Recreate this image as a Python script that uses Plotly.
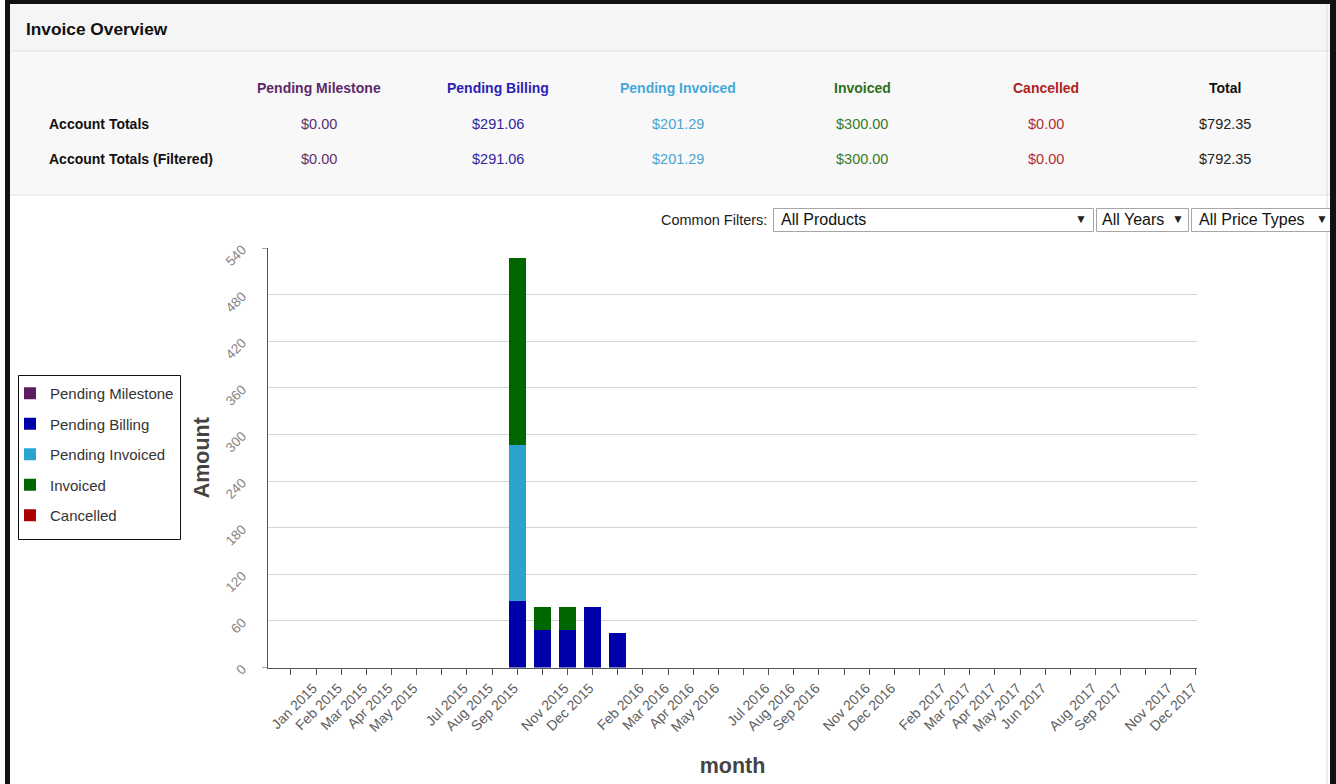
import plotly.graph_objects as go

W, H = 1336, 784
FONT = "Liberation Sans, Arial, Helvetica, sans-serif"

# ---- chart data -------------------------------------------------------------
MONTH_CATEGORIES = [
    "Dec 2014",
    "Jan 2015", "Feb 2015", "Mar 2015", "Apr 2015", "May 2015", "Jun 2015",
    "Jul 2015", "Aug 2015", "Sep 2015", "Oct 2015", "Nov 2015", "Dec 2015",
    "Jan 2016", "Feb 2016", "Mar 2016", "Apr 2016", "May 2016", "Jun 2016",
    "Jul 2016", "Aug 2016", "Sep 2016", "Oct 2016", "Nov 2016", "Dec 2016",
    "Jan 2017", "Feb 2017", "Mar 2017", "Apr 2017", "May 2017", "Jun 2017",
    "Jul 2017", "Aug 2017", "Sep 2017", "Oct 2017", "Nov 2017", "Dec 2017",
]
TICK_LABELS = [
    "",
    "Jan 2015", "Feb 2015", "Mar 2015", "Apr 2015", "May 2015", "",
    "Jul 2015", "Aug 2015", "Sep 2015", "", "Nov 2015", "Dec 2015",
    "", "Feb 2016", "Mar 2016", "Apr 2016", "May 2016", "",
    "Jul 2016", "Aug 2016", "Sep 2016", "", "Nov 2016", "Dec 2016",
    "", "Feb 2017", "Mar 2017", "Apr 2017", "May 2017", "Jun 2017",
    "", "Aug 2017", "Sep 2017", "", "Nov 2017", "Dec 2017",
]

BAR_MONTHS = ["Sep 2015", "Oct 2015", "Nov 2015", "Dec 2015", "Jan 2016"]
PENDING_MILESTONE = [0, 0, 0, 0, 0]
PENDING_BILLING = [85.6, 48.3, 48.3, 77.5, 44.8]
PENDING_INVOICED = [201.3, 0, 0, 0, 0]
INVOICED = [240.5, 29.2, 29.2, 0, 0]
CANCELLED = [0, 0, 0, 0, 0]

Y_TICKS = [0, 60, 120, 180, 240, 300, 360, 420, 480, 540]
Y_GRID = [60, 120, 180, 240, 300, 360, 420, 480]

# ---- summary table ----------------------------------------------------------
SUMMARY_COLUMNS = ["Pending Milestone", "Pending Billing", "Pending Invoiced",
                   "Invoiced", "Cancelled", "Total"]
ACCOUNT_TOTALS = ["$0.00", "$291.06", "$201.29", "$300.00", "$0.00", "$792.35"]
ACCOUNT_TOTALS_FILTERED = ["$0.00", "$291.06", "$201.29", "$300.00", "$0.00", "$792.35"]
ROW_LABELS = ["Account Totals", "Account Totals (Filtered)"]

COL_X = [319, 498, 678, 862, 1046, 1225]
HEAD_COLORS = ["#5d2a6a", "#2c1fb4", "#45a8d8", "#2e6e1e", "#b02222", "#111111"]
VALUE_COLORS = ["#5d2f6c", "#33249c", "#4aa6d2", "#3a7a2a", "#b03030", "#222222"]

SERIES_COLORS = {
    "Pending Milestone": "#5d1e5f",
    "Pending Billing": "#0000aa",
    "Pending Invoiced": "#2aa3cf",
    "Invoiced": "#006600",
    "Cancelled": "#aa0000",
}

# plot area in page pixels
PX_L, PX_R = 268, 1197
PX_T, PX_B = 248, 667.5
X_RANGE = [-0.91, 36.04]


def px(x):
    return x / W


def py(y):
    return 1 - y / H


fig = go.Figure()
for name, vals in [("Pending Milestone", PENDING_MILESTONE),
                   ("Pending Billing", PENDING_BILLING),
                   ("Pending Invoiced", PENDING_INVOICED),
                   ("Invoiced", INVOICED),
                   ("Cancelled", CANCELLED)]:
    fig.add_trace(go.Bar(
        x=BAR_MONTHS, y=vals, name=name, legendgroup=name,
        marker=dict(color=SERIES_COLORS[name], line=dict(width=0)),
    ))

shapes = []


def rect(x0, y0, x1, y1, fill, line=None, lw=0):
    shapes.append(dict(type="rect", xref="paper", yref="paper",
                       x0=px(x0), x1=px(x1), y0=py(y1), y1=py(y0),
                       fillcolor=fill, line=dict(color=line or fill, width=lw),
                       layer="below"))


def hline(x0, x1, y, color, lw=1):
    shapes.append(dict(type="line", xref="paper", yref="paper",
                       x0=px(x0), x1=px(x1), y0=py(y), y1=py(y),
                       line=dict(color=color, width=lw), layer="below"))


# panel backgrounds
rect(10, 4, 1330, 51, "#f5f5f5")
hline(10, 1330, 51, "#dcdcdc")
rect(10, 52, 1330, 195, "#f8f8f8")
hline(10, 1330, 195, "#e4e4e4")
shapes.append(dict(type="line", xref="paper", yref="paper",
                   x0=px(1327), x1=px(1327), y0=py(4), y1=py(784),
                   line=dict(color="#dddddd", width=1), layer="below"))

# filter dropdowns
for x0, x1 in [(773, 1093), (1096, 1188), (1191, 1345)]:
    shapes.append(dict(type="rect", xref="paper", yref="paper",
                       x0=px(x0 + 0.5), x1=px(x1 + 0.5), y0=py(231.5), y1=py(208.5),
                       fillcolor="#ffffff", line=dict(color="#a6a6a6", width=1),
                       layer="above"))

# outer frame
for x0, y0, x1, y1 in [(5, 0, 10, 784), (5, 0, 1336, 4), (1330, 0, 1336, 784)]:
    shapes.append(dict(type="rect", xref="paper", yref="paper",
                       x0=px(x0), x1=px(x1), y0=py(y1), y1=py(y0),
                       fillcolor="#111111", line=dict(width=0), layer="above"))

# legend frame
shapes.append(dict(type="rect", xref="paper", yref="paper",
                   x0=px(18.5), x1=px(180.5), y0=py(539.5), y1=py(375.5),
                   fillcolor="rgba(0,0,0,0)", line=dict(color="#111111", width=1),
                   layer="above"))

# outer ticks at both ends of the value axis
for v in (Y_TICKS[0], Y_TICKS[-1]):
    shapes.append(dict(type="line", xref="paper", yref="y",
                       x0=px(262), x1=px(PX_L), y0=v, y1=v,
                       line=dict(color="#555555", width=1), layer="above"))

annotations = []


def text(x, y, s, size=14.5, color="#222222", bold=False, anchor="center"):
    annotations.append(dict(
        x=px(x), y=py(y), xref="paper", yref="paper", text=f"<b>{s}</b>" if bold else s,
        showarrow=False, xanchor=anchor, yanchor="middle",
        font=dict(family=FONT, size=size, color=color)))


text(24, 29, "Invoice Overview", size=17.3, color="#111111", bold=True, anchor="left")

for i, col in enumerate(SUMMARY_COLUMNS):
    text(COL_X[i], 88, col, size=14, color=HEAD_COLORS[i], bold=True)
    text(COL_X[i], 124, ACCOUNT_TOTALS[i], color=VALUE_COLORS[i])
    text(COL_X[i], 159, ACCOUNT_TOTALS_FILTERED[i], color=VALUE_COLORS[i])
text(47, 124, ROW_LABELS[0], size=14, color="#111111", bold=True, anchor="left")
text(47, 159, ROW_LABELS[1], size=14, color="#111111", bold=True, anchor="left")

text(769, 220, "Common Filters:", size=14.5, color="#222222", anchor="right")
text(779, 220, "All Products", size=16, color="#111111", anchor="left")
text(1100, 220, "All Years", size=16, color="#111111", anchor="left")
text(1197, 220, "All Price Types", size=16, color="#111111", anchor="left")
for ax in (1081, 1178, 1322):
    text(ax, 219, "▼", size=12, color="#222222")

fig.update_layout(
    width=W, height=H,
    margin=dict(l=0, r=0, t=0, b=0, pad=0, autoexpand=False),
    paper_bgcolor="#ffffff", plot_bgcolor="#ffffff",
    font=dict(family=FONT),
    barmode="stack", bargap=0.32,
    shapes=shapes, annotations=annotations,
    showlegend=True,
    legend=dict(
        x=px(10), y=py(377), xanchor="left", yanchor="top",
        traceorder="grouped", tracegroupgap=8,
        bgcolor="rgba(0,0,0,0)", borderwidth=0,
        font=dict(family=FONT, size=15, color="#333333"),
    ),
    xaxis=dict(
        domain=[px(PX_L), px(PX_R)], automargin=False,
        type="category", categoryorder="array", categoryarray=MONTH_CATEGORIES,
        range=X_RANGE,
        tickmode="array", tickvals=MONTH_CATEGORIES, ticktext=TICK_LABELS,
        tickangle=-45, ticks="outside", ticklen=6, tickcolor="#555555",
        ticklabelshift=-3,
        tickfont=dict(family=FONT, size=14, color="#606060"),
        showline=True, linecolor="#555555", linewidth=1,
        showgrid=False, zeroline=False,
        title=dict(text="<b>month</b>", font=dict(family=FONT, size=21.5, color="#444444"),
                   standoff=24),
    ),
    yaxis=dict(
        domain=[py(PX_B), py(PX_T)], automargin=False,
        range=[0, 540],
        tickmode="array", tickvals=Y_TICKS,
        tickangle=-45, ticks="", ticklabelstandoff=22,
        tickfont=dict(family=FONT, size=13.5, color="#858585"),
        showline=True, linecolor="#555555", linewidth=1,
        showgrid=False, zeroline=False,
        minor=dict(tickmode="array", tickvals=Y_GRID, showgrid=True,
                   gridcolor="#d4d4d4", gridwidth=1, ticks=""),
        title=dict(text="<b>Amount</b>", font=dict(family=FONT, size=21.5, color="#444444"),
                   standoff=7),
    ),
)

fig.write_html("out.html")
